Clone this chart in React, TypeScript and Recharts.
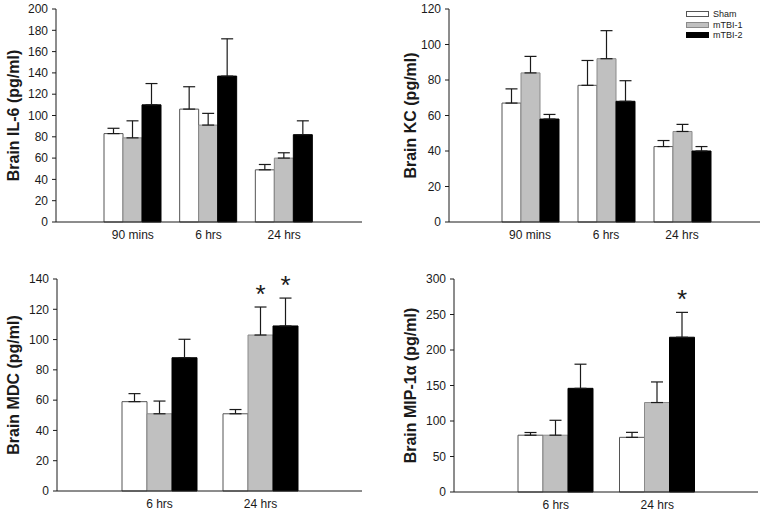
import React from 'react';
import { BarChart, Bar, XAxis, YAxis, ErrorBar, LabelList, Legend } from 'recharts';

// time points
const earlyGroups = ['90 mins', '6 hrs', '24 hrs'];
const lateGroups = ['6 hrs', '24 hrs'];

// Brain IL-6 (pg/ml)
const il6Sham = [83, 106, 49];
const il6ShamErr = [5, 21, 5];
const il6Tbi1 = [79, 91, 60];
const il6Tbi1Err = [16, 11, 5];
const il6Tbi2 = [110, 137, 82];
const il6Tbi2Err = [20, 35, 13];
const il6Ticks = [0, 20, 40, 60, 80, 100, 120, 140, 160, 180, 200];

// Brain KC (pg/ml)
const kcSham = [67, 77, 42.5];
const kcShamErr = [8, 14, 3.4];
const kcTbi1 = [84, 92, 51];
const kcTbi1Err = [9.3, 15.8, 4];
const kcTbi2 = [58, 68, 40];
const kcTbi2Err = [2.6, 11.6, 2.5];
const kcTicks = [0, 20, 40, 60, 80, 100, 120];

// Brain MDC (pg/ml)
const mdcSham = [59, 51];
const mdcShamErr = [5.3, 2.8];
const mdcTbi1 = [51, 103];
const mdcTbi1Err = [8.4, 18.5];
const mdcTbi2 = [88, 109];
const mdcTbi2Err = [12.2, 18.4];
const mdcTbi1Star = [false, true];
const mdcTbi2Star = [false, true];
const mdcTicks = [0, 20, 40, 60, 80, 100, 120, 140];

// Brain MIP-1α (pg/ml)
const mipSham = [80, 77];
const mipShamErr = [3.8, 7];
const mipTbi1 = [80, 126];
const mipTbi1Err = [21, 29];
const mipTbi2 = [146, 218];
const mipTbi2Err = [34, 35];
const mipTbi2Star = [false, true];
const mipTicks = [0, 50, 100, 150, 200, 250, 300];

const seriesNames = ['Sham', 'mTBI-1', 'mTBI-2'];

const FONT = '"Liberation Sans", Arial, sans-serif';
const INK = '#1a1a1a';

const fills = ['#ffffff', '#c0c0c0', '#000000'];
const strokes = ['#555555', '#8a8a8a', '#000000'];

function buildRows(
  groups: string[],
  sham: number[], shamErr: number[],
  tbi1: number[], tbi1Err: number[],
  tbi2: number[], tbi2Err: number[],
) {
  return groups.map((g, i) => ({
    group: g,
    sham: sham[i],
    shamErr: [0, shamErr[i]],
    tbi1: tbi1[i],
    tbi1Err: [0, tbi1Err[i]],
    tbi2: tbi2[i],
    tbi2Err: [0, tbi2Err[i]],
  }));
}

// asterisk drawn above the top of the error bar
const starLabel = (flags: boolean[] | undefined, errs: number[]) => (p: any) => {
  const idx = p.index;
  if (!flags || !flags[idx]) return null;
  const vb = p.viewBox || p;
  const x = vb.x;
  const w = vb.width;
  const h = Math.abs(vb.height);
  const y = Math.min(vb.y, vb.y + vb.height);
  const v = Number(p.value);
  const errTop = y - errs[idx] * (h / v);
  return (
    <text x={x + w / 2} y={errTop - 4} textAnchor="middle" fontSize={26} fontFamily={FONT} fill={INK}>
      *
    </text>
  );
};

function LegendBox() {
  return (
    <div style={{ fontFamily: FONT, fontSize: 9, color: INK, lineHeight: '10.5px' }}>
      {seriesNames.map((n, i) => (
        <div key={n} style={{ display: 'flex', alignItems: 'center', height: 10.5 }}>
          <div
            style={{
              width: 21,
              height: 4,
              background: fills[i],
              border: `1px solid ${strokes[i]}`,
              marginRight: 4,
            }}
          />
          <span>{n}</span>
        </div>
      ))}
    </div>
  );
}

type PanelProps = {
  left: number;
  top: number;
  width: number;
  height: number;
  rows: any[];
  ticks: number[];
  yLabel: string;
  yWidth: number;
  labelOffset: number;
  marginTop: number;
  marginRight: number;
  xHeight: number;
  padLeft: number;
  padRight: number;
  barSize: number;
  errs: number[][];
  stars?: (boolean[] | undefined)[];
  legend?: boolean;
};

function Panel(props: PanelProps) {
  const keys = ['sham', 'tbi1', 'tbi2'];
  const stars = props.stars || [];
  return (
    <div style={{ position: 'absolute', left: props.left, top: props.top }}>
      <BarChart
        width={props.width}
        height={props.height}
        data={props.rows}
        margin={{ top: props.marginTop, right: props.marginRight, left: 0, bottom: 0 }}
        barGap={0}
        barSize={props.barSize}
      >
        <XAxis
          dataKey="group"
          height={props.xHeight}
          padding={{ left: props.padLeft, right: props.padRight }}
          axisLine={{ stroke: INK }}
          tickLine={false}
          tickSize={0}
          tickMargin={8}
          tick={{ fill: INK, fontSize: 12, fontFamily: FONT }}
        />
        <YAxis
          width={props.yWidth}
          domain={[0, props.ticks[props.ticks.length - 1]]}
          ticks={props.ticks}
          interval={0}
          axisLine={{ stroke: INK }}
          tickLine={{ stroke: INK }}
          tickSize={4}
          tickMargin={4}
          tick={{ fill: INK, fontSize: 12, fontFamily: FONT }}
          label={{
            value: props.yLabel,
            angle: -90,
            position: 'insideLeft',
            offset: props.labelOffset,
            style: { textAnchor: 'middle', fontSize: 16, fontWeight: 'bold', fontFamily: FONT, fill: INK },
          }}
        />
        {props.legend && (
          <Legend
            layout="vertical"
            align="center"
            verticalAlign="middle"
            content={() => <LegendBox />}
            wrapperStyle={{ top: 9, left: 306, width: 80, bottom: 'auto', right: 'auto' }}
          />
        )}
        {keys.map((k, i) => (
          <Bar
            key={k}
            dataKey={k}
            name={seriesNames[i]}
            fill={fills[i]}
            stroke={strokes[i]}
            strokeWidth={1}
            isAnimationActive={false}
          >
            <ErrorBar dataKey={`${k}Err`} width={6} stroke={INK} strokeWidth={1.2} direction="y" />
            {stars[i] && <LabelList dataKey={k} content={starLabel(stars[i], props.errs[i])} />}
          </Bar>
        ))}
      </BarChart>
    </div>
  );
}

export default function App() {
  const il6Rows = buildRows(earlyGroups, il6Sham, il6ShamErr, il6Tbi1, il6Tbi1Err, il6Tbi2, il6Tbi2Err);
  const kcRows = buildRows(earlyGroups, kcSham, kcShamErr, kcTbi1, kcTbi1Err, kcTbi2, kcTbi2Err);
  const mdcRows = buildRows(lateGroups, mdcSham, mdcShamErr, mdcTbi1, mdcTbi1Err, mdcTbi2, mdcTbi2Err);
  const mipRows = buildRows(lateGroups, mipSham, mipShamErr, mipTbi1, mipTbi1Err, mipTbi2, mipTbi2Err);

  return (
    <div style={{ position: 'absolute', left: 0, top: 0, width: 764, height: 513, background: '#fff', overflow: 'hidden' }}>
      <Panel
        left={0} top={0} width={380} height={250}
        rows={il6Rows} ticks={il6Ticks} yLabel="Brain IL-6 (pg/ml)"
        yWidth={56} labelOffset={13} marginTop={9} marginRight={18} xHeight={28}
        padLeft={39} padRight={40} barSize={19}
        errs={[il6ShamErr, il6Tbi1Err, il6Tbi2Err]}
      />
      <Panel
        left={380} top={0} width={384} height={250}
        rows={kcRows} ticks={kcTicks} yLabel="Brain KC (pg/ml)"
        yWidth={69} labelOffset={30} marginTop={9} marginRight={4} xHeight={28}
        padLeft={43} padRight={40} barSize={19}
        errs={[kcShamErr, kcTbi1Err, kcTbi2Err]}
        legend
      />
      <Panel
        left={0} top={255} width={380} height={258}
        rows={mdcRows} ticks={mdcTicks} yLabel="Brain MDC (pg/ml)"
        yWidth={57} labelOffset={13} marginTop={24} marginRight={18} xHeight={22}
        padLeft={52} padRight={51} barSize={25}
        errs={[mdcShamErr, mdcTbi1Err, mdcTbi2Err]}
        stars={[undefined, mdcTbi1Star, mdcTbi2Star]}
      />
      <Panel
        left={380} top={255} width={384} height={258}
        rows={mipRows} ticks={mipTicks} yLabel="Brain MIP-1α (pg/ml)"
        yWidth={74} labelOffset={30} marginTop={24} marginRight={6} xHeight={21}
        padLeft={51} padRight={50} barSize={25}
        errs={[mipShamErr, mipTbi1Err, mipTbi2Err]}
        stars={[undefined, undefined, mipTbi2Star]}
      />
    </div>
  );
}
